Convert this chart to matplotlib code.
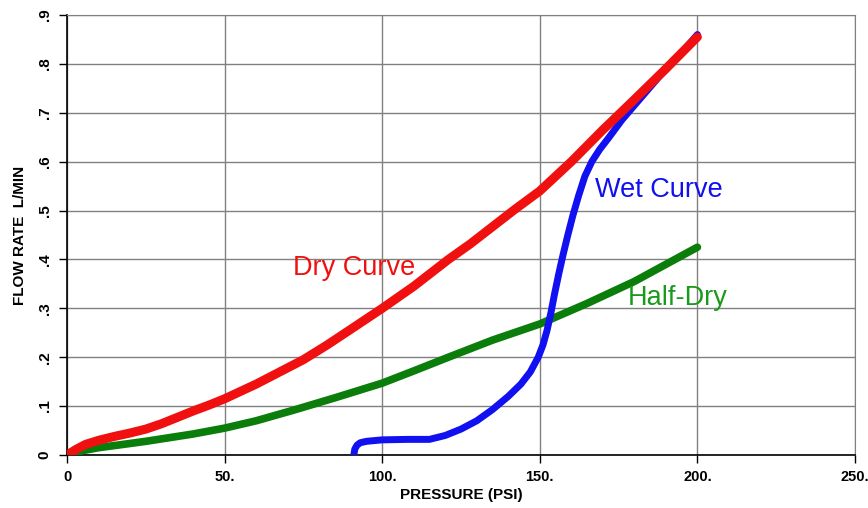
import matplotlib.pyplot as plt

# values
dry_x = [0, 3, 6, 10, 15, 20, 25, 30, 35, 40, 45, 50, 55, 60, 67.5, 75, 82.5, 90, 100,
         110, 121, 128, 135, 142, 150, 160, 170, 180, 190, 200]
dry_y = [0, 0.012, 0.022, 0.03, 0.038, 0.045, 0.053, 0.064, 0.077, 0.09, 0.102, 0.115,
         0.13, 0.145, 0.17, 0.195, 0.225, 0.257, 0.30, 0.345, 0.40, 0.432, 0.467, 0.502,
         0.54, 0.60, 0.665, 0.727, 0.79, 0.855]

half_x = [0, 5, 10, 17, 25, 32, 40, 50, 60, 72, 85, 100, 110, 121, 135, 150, 165, 180, 190, 200]
half_y = [0, 0.009, 0.015, 0.021, 0.028, 0.035, 0.043, 0.055, 0.07, 0.092, 0.117, 0.147,
          0.172, 0.20, 0.235, 0.268, 0.31, 0.355, 0.39, 0.425]

wet_x = [91, 91.3, 92, 93, 95, 100, 108, 115, 120, 125, 130, 135, 140, 144, 147, 149.5,
         151, 152.3, 153.5, 154.7, 156, 157.4, 158.9, 160.5, 162.3, 164.3, 166.5, 169, 172,
         176, 182, 188, 194, 200]
wet_y = [0.0, 0.012, 0.02, 0.025, 0.028, 0.031, 0.032, 0.032, 0.04, 0.053, 0.07, 0.093,
         0.12, 0.145, 0.17, 0.20, 0.225, 0.255, 0.29, 0.33, 0.37, 0.41, 0.45, 0.49, 0.53,
         0.57, 0.60, 0.625, 0.65, 0.685, 0.73, 0.775, 0.815, 0.86]

x_ticks = [0, 50, 100, 150, 200, 250]
x_labels = ['0', '50.', '100.', '150.', '200.', '250.']
y_ticks = [0, 0.1, 0.2, 0.3, 0.4, 0.5, 0.6, 0.7, 0.8, 0.9]
y_labels = ['0', '.1', '.2', '.3', '.4', '.5', '.6', '.7', '.8', '.9']

plt.rcParams['font.family'] = ['Liberation Sans', 'DejaVu Sans']

fig = plt.figure(figsize=(8.68, 5.08), dpi=100)
ax = fig.add_axes([0.0772, 0.1043, 0.9078, 0.8662])

ax.plot(half_x, half_y, color='#0a7d0a', lw=5.5, solid_capstyle='round', solid_joinstyle='round', zorder=3)
ax.plot(wet_x, wet_y, color='#1010f0', lw=5, solid_capstyle='round', solid_joinstyle='round', zorder=4)
ax.plot(dry_x, dry_y, color='#f01010', lw=6.5, solid_capstyle='round', solid_joinstyle='round', zorder=5)

ax.text(71.7, 0.368, 'Dry Curve', color='#f01010', fontsize=19.5)
ax.text(167.6, 0.528, 'Wet Curve', color='#1010f0', fontsize=19.5)
ax.text(177.8, 0.307, 'Half-Dry', color='#1a9a1a', fontsize=19.5)

ax.set_xlim(0, 250)
ax.set_ylim(0, 0.9)
ax.set_xticks(x_ticks)
ax.set_xticklabels(x_labels, fontweight='bold', fontsize=10.5)
ax.set_yticks(y_ticks)
ax.set_yticklabels(y_labels, fontweight='bold', fontsize=11, rotation=90, va='center')
ax.tick_params(direction='out', length=6, width=1, pad=5)

ax.grid(True, color='#808080', lw=1)
ax.set_axisbelow(True)
ax.spines['top'].set_color('#808080')
ax.spines['right'].set_color('#808080')
ax.spines['left'].set_linewidth(1.2)
ax.spines['bottom'].set_linewidth(1.2)

ax.set_xlabel('PRESSURE (PSI)', fontweight='bold', fontsize=11, labelpad=3)
ax.set_ylabel('FLOW RATE  L/MIN', fontweight='bold', fontsize=11, labelpad=8)

fig.savefig('out.png', dpi=100)
